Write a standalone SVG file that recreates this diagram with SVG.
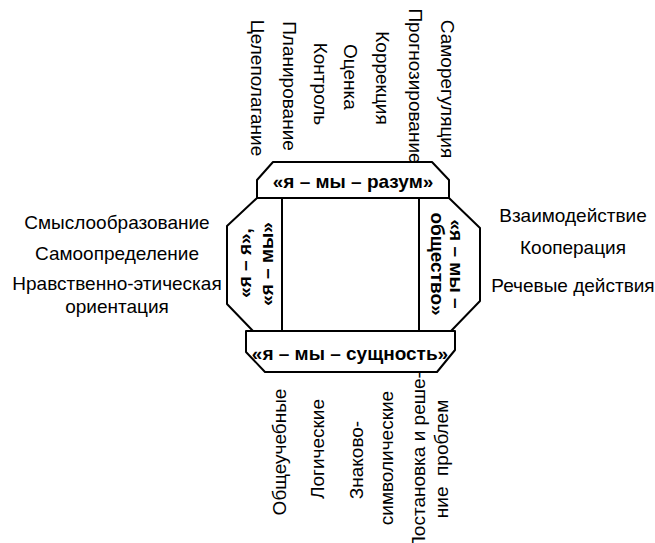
<svg xmlns="http://www.w3.org/2000/svg" width="655" height="543" viewBox="0 0 655 543">
<style>
.box{fill:#fff;stroke:#000;stroke-width:2;stroke-linejoin:round}
.lbl{font-family:"Liberation Sans",Arial,sans-serif;font-size:19px;fill:#000;text-anchor:middle;white-space:pre}
.bl{font-family:"Liberation Sans",Arial,sans-serif;font-size:19px;font-weight:bold;fill:#000;text-anchor:middle}
</style>
<rect width="655" height="543" fill="#fff"/>
<g id="connectors"></g>
<g id="node-razum">
<polygon class="box" points="273,162 432,162 449,180 449,198 257,198 257,180"/>
<text class="bl" x="353" y="188">«я – мы – разум»</text>
</g>
<g id="node-ya">
<polygon class="box" points="257,198 282,198 282,331 253,331 227,304 227,226"/>
<text class="bl" transform="translate(251,263) rotate(-90)">«я – я»,</text>
<text class="bl" transform="translate(273,264) rotate(-90)">«я – мы»</text>
</g>
<g id="node-obshchestvo">
<polygon class="box" points="419,198 449,198 480,228 480,301 451,331 419,331"/>
<text class="bl" transform="translate(450,264) rotate(90)">«я – мы –</text>
<text class="bl" transform="translate(431,264) rotate(90)">общество»</text>
</g>
<g id="node-sushchnost">
<polygon class="box" points="246,331 455,331 455,350 437,372 265,372 246,352"/>
<text class="bl" x="350" y="360">«я – мы – сущность»</text>
</g>
<g id="labels-top">
<text class="lbl" transform="translate(251,88) rotate(90)">Целеполагание</text>
<text class="lbl" transform="translate(283,86) rotate(90)">Планирование</text>
<text class="lbl" transform="translate(314,84) rotate(90)">Контроль</text>
<text class="lbl" transform="translate(344,77) rotate(90)">Оценка</text>
<text class="lbl" transform="translate(376,78) rotate(90)">Коррекция</text>
<text class="lbl" transform="translate(409,86) rotate(90)">Прогнозирование</text>
<text class="lbl" transform="translate(441,89) rotate(90)">Саморегуляция</text>
</g>
<g id="labels-left">
<text class="lbl" x="117" y="229">Смыслообразование</text>
<text class="lbl" x="117" y="260">Самоопределение</text>
<text class="lbl" x="117" y="290">Нравственно-этическая</text>
<text class="lbl" x="117" y="313">ориентация</text>
</g>
<g id="labels-right">
<text class="lbl" x="573" y="222">Взаимодействие</text>
<text class="lbl" x="573" y="254">Кооперация</text>
<text class="lbl" x="573" y="292">Речевые действия</text>
</g>
<g id="labels-bottom">
<text class="lbl" transform="translate(286,452) rotate(-90)">Общеучебные</text>
<text class="lbl" transform="translate(324,449) rotate(-90)">Логические</text>
<text class="lbl" transform="translate(363,460) rotate(-90)">Знаково-</text>
<text class="lbl" transform="translate(393,458) rotate(-90)">символические</text>
<text class="lbl" transform="translate(425,461) rotate(-90)">Постановка и реше-</text>
<text class="lbl" transform="translate(448,459) rotate(-90)">ние  проблем</text>
</g>
</svg>
